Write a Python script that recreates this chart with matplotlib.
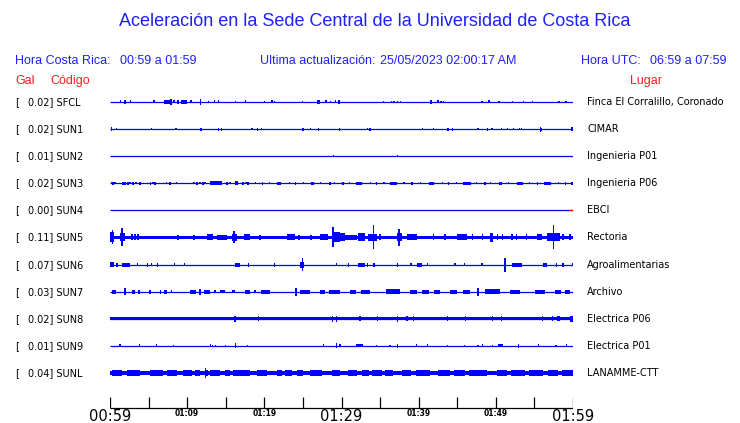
import matplotlib.pyplot as plt

# station table
codes = ['SFCL', 'SUN1', 'SUN2', 'SUN3', 'SUN4', 'SUN5', 'SUN6', 'SUN7', 'SUN8', 'SUN9', 'SUNL']
gal = [0.02, 0.02, 0.01, 0.02, 0.00, 0.11, 0.07, 0.03, 0.02, 0.01, 0.04]
places = ['Finca El Corralillo, Coronado', 'CIMAR', 'Ingenieria P01', 'Ingenieria P06', 'EBCI',
          'Rectoria', 'Agroalimentarias', 'Archivo', 'Electrica P06', 'Electrica P01', 'LANAMME-CTT']
# half width of the continuous noise band (0 = thin line)
base_amp = [0, 0, 0, 0, 0, 1.8, 0, 0, 1.7, 0, 1.8]

# bursts: (start minute, end minute, half amplitude)
sfcl_ev = [(1.4, 1.4, 1.5), (1.9, 2.0, 2.0), (2.7, 2.7, 1.5), (5.7, 5.7, 1.5), (7.0, 7.9, 1.7),
           (7.9, 7.9, 3.0), (8.3, 8.3, 1.5), (8.7, 8.9, 1.7), (9.2, 10.0, 1.7), (10.5, 10.5, 1.5),
           (11.7, 11.7, 3.0), (12.8, 12.8, 1.2), (13.5, 13.5, 1.5), (14.1, 14.1, 1.5), (16.3, 16.3, 1.0),
           (17.6, 17.6, 1.5), (20.0, 20.0, 1.0), (21.0, 21.0, 1.5), (21.3, 21.3, 1.0), (24.9, 24.9, 1.0),
           (26.8, 27.2, 1.7), (28.0, 28.0, 1.5), (28.6, 28.6, 1.0), (29.2, 29.2, 1.5), (29.6, 29.8, 1.7),
           (35.4, 35.4, 1.0), (36.5, 36.5, 1.2), (36.8, 36.8, 1.2), (37.3, 37.3, 1.0), (37.6, 37.6, 1.0),
           (41.5, 41.7, 1.7), (42.5, 42.5, 1.5), (42.9, 42.9, 1.2), (43.2, 43.2, 1.0), (48.2, 48.2, 1.0),
           (49.0, 49.2, 1.5), (50.4, 50.4, 1.2), (52.2, 52.2, 1.2), (53.6, 53.6, 1.2), (54.8, 54.8, 1.2),
           (58.2, 58.2, 1.2), (59.1, 59.1, 1.0)]
sun1_ev = [(0.2, 0.2, 2.0), (0.8, 0.8, 1.2), (5.35, 5.35, 1.0), (8.55, 8.55, 1.2), (11.8, 11.8, 1.5),
           (14.1, 14.1, 1.5), (14.4, 14.5, 1.5), (18.4, 18.4, 1.0), (19.1, 19.1, 1.5), (19.6, 19.6, 1.0),
           (25.0, 25.0, 1.5), (26.0, 26.0, 1.0), (27.0, 27.1, 1.5), (29.7, 29.7, 1.5), (33.4, 33.4, 1.0),
           (33.7, 33.7, 1.5), (40.5, 40.5, 1.2), (41.9, 41.9, 1.0), (43.8, 43.8, 1.5), (44.4, 44.4, 1.5),
           (47.7, 47.7, 1.2), (48.9, 48.9, 1.5), (49.5, 49.5, 1.0), (50.7, 50.7, 1.2), (51.5, 51.5, 1.2),
           (52.3, 52.3, 1.2), (53.1, 53.1, 1.0), (53.3, 53.3, 1.2), (55.8, 55.8, 2.5), (55.9, 55.9, 1.5),
           (59.7, 60.0, 2.0)]
sun2_ev = [(29.0, 29.0, 0.8), (37.3, 37.3, 0.8), (41.9, 41.9, 0.6)]
sun3_ev = [(0.22, 0.22, 1.2), (0.39, 0.39, 1.5), (0.65, 0.65, 1.2), (1.52, 2.07, 1.5), (2.33, 2.33, 1.5),
           (2.59, 2.59, 1.2), (2.98, 2.98, 1.5), (3.37, 3.37, 1.2), (3.89, 3.89, 1.5), (5.27, 5.27, 1.5),
           (5.57, 5.57, 1.2), (5.83, 5.83, 1.5), (7.35, 7.35, 1.2), (7.78, 7.78, 1.5), (8.64, 8.64, 1.2),
           (10.89, 10.89, 1.2), (11.28, 11.28, 1.5), (11.66, 11.66, 1.2), (12.05, 12.05, 1.5),
           (12.31, 12.31, 1.2), (12.96, 14.48, 1.8), (15.16, 15.16, 1.5), (15.55, 15.55, 1.2),
           (16.2, 16.59, 1.8), (17.24, 17.24, 1.5), (17.63, 17.63, 1.2), (17.88, 17.88, 1.5),
           (18.9, 18.9, 1.2), (19.8, 19.8, 1.5), (20.7, 20.7, 1.2), (21.6, 22.1, 1.5), (23.3, 23.3, 1.2),
           (24.0, 24.0, 1.5), (25.1, 25.1, 1.2), (26.0, 26.4, 1.5), (27.3, 27.3, 1.2), (28.5, 28.5, 1.5),
           (29.1, 29.1, 1.2), (30.2, 30.2, 1.5), (31.0, 31.0, 1.2), (31.9, 32.6, 1.5), (33.8, 33.8, 1.2),
           (34.5, 34.5, 1.5), (35.5, 35.5, 1.2), (36.3, 37.2, 1.5), (38.1, 38.1, 1.2), (39.0, 39.3, 1.5),
           (40.2, 40.2, 1.2), (41.3, 42.0, 1.5), (43.1, 43.1, 1.2), (43.9, 43.9, 1.5), (44.9, 44.9, 1.2),
           (45.7, 46.8, 1.5), (47.5, 47.5, 1.2), (48.6, 48.6, 1.5), (49.3, 49.3, 1.2), (50.4, 50.8, 1.5),
           (51.6, 51.6, 1.2), (52.7, 53.5, 1.5), (54.4, 54.4, 1.2), (55.4, 55.4, 1.5), (56.3, 57.2, 1.5),
           (58.1, 58.1, 1.2), (59.0, 59.0, 1.5), (59.7, 60.0, 1.5)]
sun4_ev = []
sun5_ev = [(0.0, 0.52, 5.0), (0.3, 0.3, 7.0), (1.3, 1.9, 4.0), (1.56, 1.56, 9.0), (2.85, 2.85, 3.0),
           (3.24, 3.24, 3.0), (3.63, 3.63, 3.0), (8.81, 8.81, 2.5), (10.89, 10.89, 2.5), (12.57, 13.35, 3.0),
           (13.87, 15.16, 2.5), (15.81, 16.46, 3.5), (16.07, 16.07, 6.0), (17.37, 18.14, 3.0),
           (19.44, 19.44, 2.5), (22.94, 23.98, 3.0), (24.49, 24.49, 2.5), (26.05, 26.05, 2.5),
           (27.22, 28.25, 3.0), (28.77, 29.81, 5.0), (28.9, 28.9, 10.0), (29.8, 30.5, 4.0),
           (30.2, 32.0, 2.5), (32.1, 33.0, 4.0), (33.4, 34.6, 3.5), (34.1, 34.1, 12.0), (35.0, 35.0, 3.0),
           (37.2, 37.8, 4.0), (37.45, 37.45, 8.7), (38.5, 39.8, 3.0), (41.9, 41.9, 3.0), (43.4, 43.4, 3.0),
           (45.0, 46.3, 3.0), (47.0, 47.0, 3.0), (48.3, 48.3, 3.0), (49.2, 49.6, 4.5), (50.2, 50.2, 3.0),
           (50.9, 50.9, 3.0), (52.1, 52.1, 3.0), (52.7, 52.7, 3.0), (54.0, 54.0, 3.0), (55.3, 56.0, 3.0),
           (56.6, 58.3, 4.0), (57.5, 57.5, 12.0), (58.7, 58.7, 3.0), (59.6, 59.6, 3.0)]
sun6_ev = [(0.0, 0.5, 2.5), (0.9, 0.9, 2.0), (1.55, 2.6, 2.0), (3.6, 3.6, 1.5), (4.9, 4.9, 2.0),
           (5.4, 5.4, 1.5), (6.2, 6.2, 2.0), (8.4, 8.4, 1.5), (9.7, 9.7, 1.5), (16.2, 16.8, 2.0),
           (17.9, 17.9, 2.0), (21.3, 21.3, 2.0), (24.6, 25.1, 3.0), (24.9, 24.9, 6.5), (29.4, 29.4, 1.5),
           (30.8, 31.0, 2.0), (32.1, 33.0, 2.0), (33.4, 33.4, 2.0), (34.2, 34.2, 2.0), (37.3, 37.3, 2.0),
           (39.0, 39.0, 1.5), (39.8, 40.4, 2.0), (41.1, 41.1, 1.5), (44.7, 44.7, 1.5), (45.9, 45.9, 1.5),
           (48.2, 48.2, 1.5), (51.2, 51.2, 7.0), (52.1, 53.4, 2.0), (56.1, 56.6, 2.0), (57.9, 57.9, 2.0),
           (58.7, 58.7, 2.0), (60.0, 60.0, 1.5)]
sun7_ev = [(0.26, 0.78, 2.0), (1.94, 1.94, 3.5), (2.85, 3.3, 2.0), (3.6, 3.89, 2.0), (5.18, 5.18, 2.0),
           (6.5, 6.5, 2.0), (7.0, 7.4, 2.0), (8.0, 8.0, 1.5), (10.4, 11.2, 2.0), (11.66, 11.66, 3.0),
           (12.2, 13.0, 2.0), (13.6, 13.6, 1.5), (14.3, 14.9, 1.5), (15.8, 16.2, 1.5), (17.5, 18.2, 2.0),
           (18.8, 18.8, 1.5), (19.6, 20.7, 2.0), (24.1, 24.1, 4.0), (24.6, 25.9, 2.0), (27.2, 27.8, 2.0),
           (28.4, 29.8, 2.0), (31.1, 31.9, 2.0), (32.5, 33.7, 2.0), (35.8, 37.6, 2.5), (38.9, 39.8, 2.0),
           (40.4, 41.3, 2.0), (42.0, 42.8, 2.0), (44.1, 45.0, 2.0), (45.7, 46.7, 2.0), (47.7, 47.7, 4.0),
           (48.6, 50.5, 2.5), (51.8, 53.1, 2.0), (55.1, 56.4, 2.0), (57.7, 58.5, 2.0), (59.0, 59.6, 2.0)]
sun8_ev = [(16.2, 16.2, 3.0), (19.2, 19.2, 2.5), (28.8, 28.8, 3.0), (29.3, 29.4, 3.0), (32.4, 32.4, 2.5),
           (34.7, 34.7, 2.5), (37.3, 37.3, 3.0), (38.5, 38.5, 2.5), (39.3, 39.3, 2.5), (43.7, 43.7, 2.5),
           (46.1, 46.1, 2.5), (49.6, 49.6, 2.5), (50.7, 50.7, 2.5), (56.0, 56.0, 2.5), (57.3, 57.3, 2.5),
           (57.9, 58.3, 2.5), (59.6, 60.0, 3.0)]
sun9_ev = [(1.2, 1.4, 1.5), (3.8, 3.8, 1.5), (6.0, 6.1, 1.5), (8.2, 8.2, 1.2), (13.0, 13.0, 1.5),
           (13.3, 13.3, 1.2), (13.7, 13.7, 1.2), (15.0, 15.0, 1.2), (16.3, 16.3, 2.5), (17.8, 17.8, 1.2),
           (27.7, 27.7, 1.5), (29.4, 29.4, 2.5), (29.8, 29.8, 1.5), (31.9, 32.8, 1.5), (34.5, 34.5, 1.2),
           (36.3, 36.3, 1.2), (37.3, 37.3, 2.0), (39.7, 39.7, 1.5), (41.1, 41.1, 1.5), (43.7, 43.7, 1.2),
           (45.9, 45.9, 1.2), (47.7, 47.7, 1.2), (48.3, 48.3, 1.5), (49.6, 49.6, 1.2), (50.3, 50.9, 1.5),
           (52.9, 52.9, 2.0), (55.5, 55.5, 1.5), (57.8, 57.8, 1.2), (59.2, 59.2, 1.5)]
sunl_ev = [(0.26, 1.56, 3.0), (2.2, 3.9, 3.0), (5.2, 6.9, 3.0), (7.4, 8.7, 3.0), (9.5, 10.6, 3.0),
           (11.0, 11.7, 3.0), (12.3, 12.7, 3.0), (12.4, 12.4, 5.0), (13.0, 14.3, 3.0), (14.9, 15.6, 3.0),
           (15.9, 18.1, 3.0), (19.0, 20.3, 3.0), (21.6, 22.3, 3.0), (22.7, 23.6, 3.0), (24.2, 25.0, 3.0),
           (25.9, 27.5, 3.0), (28.8, 29.8, 3.0), (30.8, 32.0, 3.0), (32.6, 33.5, 3.0), (34.0, 35.2, 3.0),
           (35.6, 36.7, 3.0), (37.8, 39.0, 3.0), (39.6, 41.5, 3.0), (42.5, 44.0, 3.0), (44.6, 46.0, 3.0),
           (46.5, 48.9, 3.0), (50.1, 51.5, 3.0), (52.0, 53.8, 3.0), (54.3, 56.1, 3.0), (56.8, 58.0, 3.0),
           (58.6, 60.0, 3.0)]
events = [sfcl_ev, sun1_ev, sun2_ev, sun3_ev, sun4_ev, sun5_ev, sun6_ev, sun7_ev, sun8_ev, sun9_ev, sunl_ev]

tick_min = list(range(0, 61, 5))
big_ticks = {0: '00:59', 30: '01:29', 60: '01:59'}
small_ticks = {10: '01:09', 20: '01:19', 40: '01:39', 50: '01:49'}

BLUE = '#0000ff'
TBLUE = '#1f1fff'
RED = '#ff1f1f'

W, H = 740, 423
fig = plt.figure(figsize=(W / 100, H / 100), dpi=100)
fig.patch.set_facecolor('white')

# overlay axes in pixel coordinates for all the texts
tx = fig.add_axes([0, 0, 1, 1])
tx.set_xlim(0, W)
tx.set_ylim(H, 0)
tx.axis('off')

# trace axes: x in minutes, y in pixels
ax = fig.add_axes([110 / W, 0, 463 / W, 1])
ax.set_xlim(0, 60)
ax.set_ylim(H, 0)
ax.axis('off')

row0, dy = 102, 27.1
for i, code in enumerate(codes):
    y = row0 + i * dy
    ax.hlines(y, 0, 60.2, color=BLUE, lw=0.9)
    if base_amp[i] > 0:
        ax.bar(30.1, 2 * base_amp[i], width=60.2, bottom=y - base_amp[i], color=BLUE, lw=0)
    for s, e, a in events[i]:
        ax.bar((s + e) / 2, 2 * a, width=max(e - s, 0.16), bottom=y - a, color=BLUE, lw=0,
               antialiased=False)
    if code == 'SUN4':
        ax.hlines(y, 59.5, 60.2, color='red', lw=0.9)

    tx.text(15, y, '[', fontsize=7, va='center', ha='left', color='black')
    tx.text(28, y, f'{gal[i]:.2f}] {code}', fontsize=7, va='center', ha='left', color='black')
    tx.text(587, y, places[i], fontsize=7, va='center', ha='left', color='black')

# time axis
ax.hlines(408, 0, 60, color='black', lw=0.9)
ax.vlines(tick_min, 397, 408, color='black', lw=0.9)
for m, lab in big_ticks.items():
    ax.text(m, 416.5, lab, fontsize=10.5, ha='center', va='center', color='black')
for m, lab in small_ticks.items():
    ax.text(m, 414, lab, fontsize=5.5, ha='center', va='center', color='black', fontweight='bold')

hf = 'Liberation Sans'
tx.text(375, 22, 'Aceleración en la Sede Central de la Universidad de Costa Rica',
        fontsize=13, family=hf, color=TBLUE, ha='center', va='center')
tx.text(15, 61, 'Hora Costa Rica:', fontsize=9, family=hf, color=TBLUE, va='center')
tx.text(120, 61, '00:59 a 01:59', fontsize=9, family=hf, color=TBLUE, va='center')
tx.text(260, 61, 'Ultima actualización:', fontsize=9, family=hf, color=TBLUE, va='center')
tx.text(380, 61, '25/05/2023 02:00:17 AM', fontsize=9, family=hf, color=TBLUE, va='center')
tx.text(581, 61, 'Hora UTC:', fontsize=9, family=hf, color=TBLUE, va='center')
tx.text(650, 61, '06:59 a 07:59', fontsize=9, family=hf, color=TBLUE, va='center')
tx.text(15, 81, 'Gal', fontsize=9, family=hf, color=RED, va='center')
tx.text(50, 81, 'Código', fontsize=9, family=hf, color=RED, va='center')
tx.text(630, 81, 'Lugar', fontsize=9, family=hf, color=RED, va='center')

fig.savefig('out.png', dpi=100)
